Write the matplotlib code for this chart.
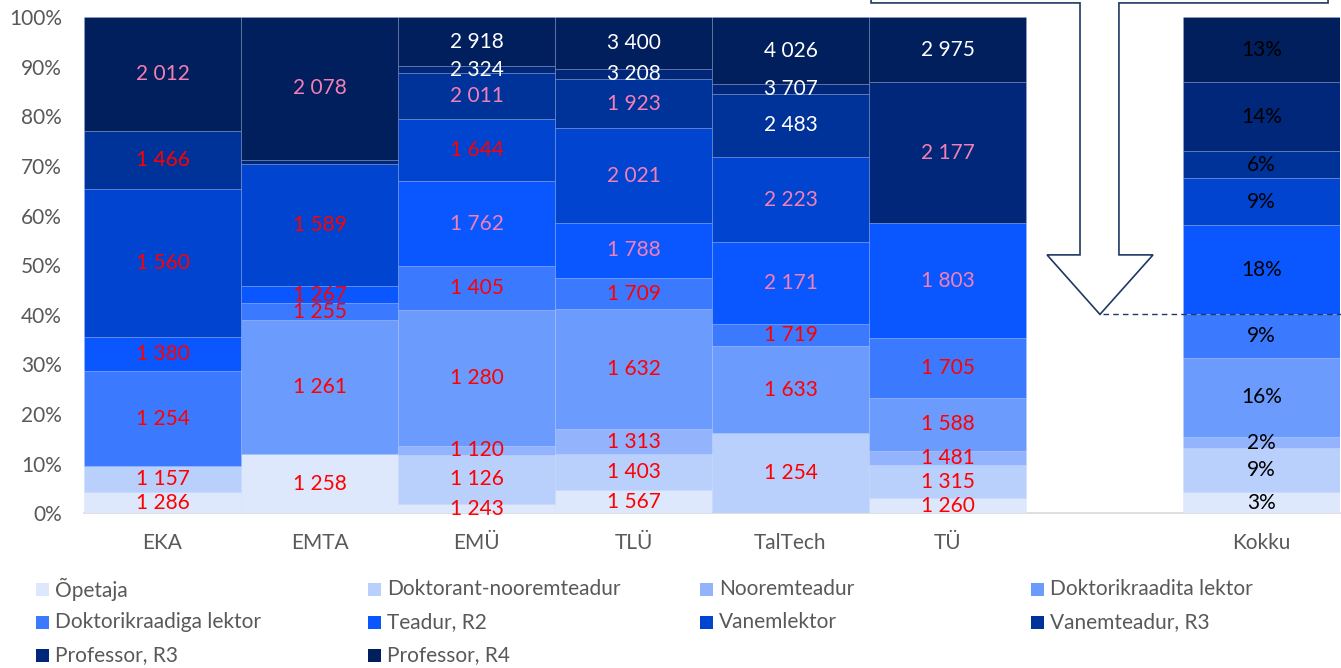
import matplotlib

matplotlib.use("Agg")
import matplotlib.pyplot as plt
import numpy as np
from matplotlib.patches import Polygon, Rectangle

plt.rcParams["font.family"] = ["Lato", "DejaVu Sans"]

categories = ["EKA", "EMTA", "EMÜ", "TLÜ", "TalTech", "TÜ", "", "Kokku"]
series = [
    "Õpetaja",
    "Doktorant-nooremteadur",
    "Nooremteadur",
    "Doktorikraadita lektor",
    "Doktorikraadiga lektor",
    "Teadur, R2",
    "Vanemlektor",
    "Vanemteadur, R3",
    "Professor, R3",
    "Professor, R4",
]
colors = [
    "#dde8fd", "#b9cffc", "#93b3fc", "#6b9bfd", "#3b7afe",
    "#0a57ff", "#0044cf", "#003399", "#00277a", "#001f5c",
]

# share of staff (%) per column, bottom-to-top in series order
eka_share = [4.2, 5.3, 0, 0, 19.2, 6.8, 29.9, 11.6, 0, 23.0]
emta_share = [11.9, 0, 0, 27.0, 3.4, 3.5, 24.7, 0, 0.8, 28.7]
emu_share = [1.9, 9.9, 1.8, 27.3, 9.0, 17.0, 12.6, 9.2, 1.5, 9.8]
tlu_share = [4.6, 7.4, 4.9, 24.3, 6.2, 11.2, 19.0, 9.9, 2.0, 10.5]
taltech_share = [0, 16.1, 0, 17.6, 4.5, 16.4, 17.3, 12.6, 2.0, 13.5]
tu_share = [3.1, 6.6, 2.9, 10.7, 12.0, 23.2, 0, 0, 28.4, 13.1]
blank_share = [0] * 10
kokku_share = [4.2, 8.9, 2.3, 16.0, 8.7, 18.0, 9.4, 5.5, 13.9, 13.1]

# salary shown on each segment (None = no label)
eka_salary = [1286, 1157, None, None, 1254, 1380, 1560, 1466, None, 2012]
emta_salary = [1258, None, None, 1261, 1255, 1267, 1589, None, None, 2078]
emu_salary = [1243, 1126, 1120, 1280, 1405, 1762, 1644, 2011, 2324, 2918]
tlu_salary = [1567, 1403, 1313, 1632, 1709, 1788, 2021, 1923, 3208, 3400]
taltech_salary = [None, 1254, None, 1633, 1719, 2171, 2223, 2483, 3707, 4026]
tu_salary = [1260, 1315, 1481, 1588, 1705, 1803, None, None, 2177, 2975]

kokku_labels = ["3%", "9%", "2%", "16%", "9%", "18%", "9%", "6%", "14%", "13%"]


def salary_color(value):
    if value < 1750:
        return "#ff0000"
    if value < 2300:
        return "#f47fb4"
    return "white"


shares = np.array([eka_share, emta_share, emu_share, tlu_share, taltech_share,
                   tu_share, blank_share, kokku_share], dtype=float)
salaries = [eka_salary, emta_salary, emu_salary, tlu_salary, taltech_salary,
            tu_salary, [None] * 10, [None] * 10]

W, H = 1341, 668
fig = plt.figure(figsize=(W / 100, H / 100), dpi=100)
ax = fig.add_axes([84 / W, (H - 513.3) / H, 1256 / W, 496 / H])

x = np.arange(len(categories))
bottoms = np.zeros(len(categories))
label_size = 15

for i, name in enumerate(series):
    heights = shares[:, i]
    ax.bar(x, heights, bottom=bottoms, width=1.0, color=colors[i],
           edgecolor=(0.75, 0.82, 1, 0.22), linewidth=0.6, label=name, zorder=2)
    for j in range(len(categories)):
        mid = bottoms[j] + heights[j] / 2
        if categories[j] == "Kokku":
            ax.text(x[j], mid, kokku_labels[i], ha="center", va="center",
                    fontsize=label_size, color="black", zorder=4)
            continue
        value = salaries[j][i]
        if value is None:
            continue
        ax.text(x[j], mid, f"{value:,}".replace(",", " "), ha="center",
                va="center", fontsize=label_size, color=salary_color(value),
                zorder=4, clip_on=False)
    bottoms += heights

ax.set_xlim(-0.5, len(categories) - 0.5)
ax.set_ylim(0, 100)
ax.set_yticks(range(0, 101, 10))
ax.set_yticklabels([f"{v}%" for v in range(0, 101, 10)])
ax.set_xticks(x)
ax.set_xticklabels(categories)
ax.tick_params(axis="both", length=0, labelsize=label_size, labelcolor="#595959")
ax.tick_params(axis="y", pad=16)
ax.tick_params(axis="x", pad=14)
for side in ["top", "right", "left"]:
    ax.spines[side].set_visible(False)
ax.spines["bottom"].set_color("#d9d9d9")
ax.spines["bottom"].set_linewidth(1.2)
ax.spines["bottom"].set_zorder(1)

# down-arrow callout pointing at the Kokku boundary (R2 and above)
threshold = shares[-1, :5].sum()
arrow_pts = [
    (4.513, 112), (4.513, 102.9), (5.844, 102.9), (5.844, 52.1),
    (5.634, 52.1), (5.971, threshold), (6.309, 52.1), (6.092, 52.1),
    (6.092, 102.9), (7.424, 102.9), (7.424, 112),
]
ax.add_patch(Polygon(arrow_pts, closed=False, facecolor="white",
                     edgecolor="#1f3864", linewidth=1.2, clip_on=False, zorder=5))
ax.plot([5.99, 7.52], [threshold, threshold], color="#1f3864", linewidth=1.0,
        linestyle=(0, (4, 3)), clip_on=False, zorder=5)

# legend, 4 evenly spaced columns
text_x = [55, 387, 719, 1050]
row_y = [589, 622, 655]
for i, name in enumerate(series):
    col, row = i % 4, i // 4
    tx, ty = text_x[col], row_y[row]
    fig.patches.append(Rectangle(((tx - 19) / W, (H - ty - 6.5) / H), 13 / W, 13 / H,
                                 transform=fig.transFigure, facecolor=colors[i],
                                 edgecolor="none"))
    fig.text(tx / W, (H - ty) / H, name, ha="left", va="center",
             fontsize=label_size, color="#595959")

fig.savefig("out.png", dpi=100)
